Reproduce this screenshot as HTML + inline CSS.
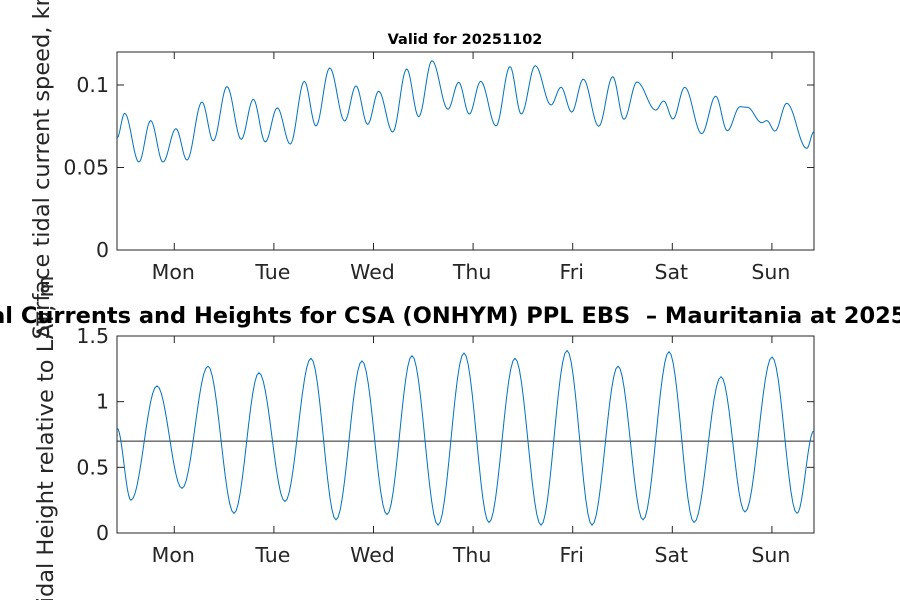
<!DOCTYPE html>
<html><head><meta charset="utf-8"><style>
body{margin:0;background:#fff;width:900px;height:600px;overflow:hidden}
svg{display:block;font-family:"DejaVu Sans","Liberation Sans",sans-serif}
</style></head><body>
<svg id="chart" width="900" height="600" viewBox="0 0 900 600"></svg>
<script>
// Current speed extrema: hours from Monday 00:00, values km/h
const curHours=[-13.8,-11.95,-8.51,-5.69,-2.72,0.41,3.06,6.67,9.40,12.70,16.14,19.04,21.93,24.82,27.95,31.33,34.14,37.45,41.06,43.78,46.60,49.25,52.63,56.00,58.89,62.10,65.95,68.53,71.08,73.83,77.52,80.89,83.61,86.99,90.77,93.18,95.76,98.55,102.27,105.64,108.36,111.49,116.00,117.93,120.17,122.99,127.08,130.46,133.25,136.31,138.07,141.54,142.75,144.75,147.57,152.38,154.14];
const curValues=[0.0679,0.0828,0.0533,0.0784,0.0533,0.0735,0.0545,0.0897,0.0662,0.0990,0.0671,0.0913,0.0655,0.0861,0.0642,0.1022,0.0752,0.1103,0.0782,0.0994,0.0762,0.0962,0.0715,0.1097,0.0808,0.1147,0.0853,0.1016,0.0824,0.1022,0.0752,0.1111,0.0824,0.1117,0.0879,0.0986,0.0836,0.1035,0.0750,0.1050,0.0792,0.1018,0.0848,0.0903,0.0794,0.0986,0.0705,0.0932,0.0723,0.0868,0.0865,0.0772,0.0784,0.0721,0.0889,0.0616,0.0717];
// Tide height extrema: hours from Monday 00:00, metres
const tideHours=[-13.8,-10.43,-4.17,1.86,8.12,14.39,20.41,26.68,32.94,38.97,45.23,51.26,57.28,63.55,69.81,75.84,82.10,88.37,94.63,100.66,106.92,112.95,119.21,125.24,131.74,137.52,144.03,150.05,154.14];
const tideValues=[0.80,0.25,1.12,0.34,1.27,0.15,1.22,0.24,1.33,0.10,1.31,0.14,1.35,0.06,1.37,0.08,1.33,0.06,1.39,0.06,1.27,0.10,1.38,0.08,1.19,0.16,1.34,0.15,0.78];
const meanLevel=[0.70];
const dayLabels=["Mon","Tue","Wed","Thu","Fri","Sat","Sun"];
const curTicks=[0,0.05,0.1];
const curTickLabels=["0","0.05","0.1"];
const tideTicks=[0,0.5,1,1.5];
const tideTickLabels=["0","0.5","1","1.5"];

const svg=document.getElementById('chart');
const NS='http://www.w3.org/2000/svg';
function mk(tag,attrs,parent){const e=document.createElementNS(NS,tag);for(const k in attrs)e.setAttribute(k,attrs[k]);(parent||svg).appendChild(e);return e;}
const X0=117,X1=814,H0=-13.8,H1=154.14;
const xs=h=>X0+(h-H0)/(H1-H0)*(X1-X0);
const axTop={y0:250,y1:52,min:0,max:0.12};
const axBot={y0:533,y1:336,min:0,max:1.5};
const ys=(ax,v)=>ax.y0-(v-ax.min)/(ax.max-ax.min)*(ax.y0-ax.y1);

function pathFrom(ax,hs,vs){
  let d='';
  for(let i=0;i<hs.length-1;i++){
    const steps=12;
    for(let s=(i?1:0);s<=steps;s++){
      const t=s/steps,h=hs[i]+(hs[i+1]-hs[i])*t;
      const v=vs[i]+(vs[i+1]-vs[i])*(1-Math.cos(Math.PI*t))/2;
      d+=(d?'L':'M')+xs(h).toFixed(2)+','+ys(ax,v).toFixed(2);
    }
  }
  return d;
}
function axes(ax,ticks,labels,name){
  const g=mk('g',{});
  
  
  mk('rect',{x:X0,y:ax.y1,width:X1-X0,height:ax.y0-ax.y1,fill:'#fff',stroke:'#262626','stroke-width':1},g);
  ticks.forEach((v,i)=>{
    const y=ys(ax,v);
    mk('line',{x1:X0,x2:X0+7,y1:y,y2:y,stroke:'#262626'},g);
    mk('line',{x1:X1,x2:X1-7,y1:y,y2:y,stroke:'#262626'},g);
    const t=mk('text',{x:X0-8,y:y+7,'text-anchor':'end','font-size':20.5,fill:'#262626'},g);
    t.textContent=labels[i];
    
    
  });
  dayLabels.forEach((d,i)=>{
    const x=xs(i*24);
    mk('line',{x1:x,x2:x,y1:ax.y0,y2:ax.y0-7,stroke:'#262626'},g);
    mk('line',{x1:x,x2:x,y1:ax.y1,y2:ax.y1+7,stroke:'#262626'},g);
    const t=mk('text',{x:x-1,y:ax.y0+29,'text-anchor':'middle','font-size':20.5,fill:'#262626'},g);
    t.textContent=d;
    
    
  });
  return g;
}
axes(axTop,curTicks,curTickLabels,'current-axes');
const p1=mk('path',{d:pathFrom(axTop,curHours,curValues),fill:'none',stroke:'#0072BD','stroke-width':1});


axes(axBot,tideTicks,tideTickLabels,'tide-axes');
const ml=mk('line',{x1:X0,x2:X1,y1:ys(axBot,meanLevel[0]),y2:ys(axBot,meanLevel[0]),stroke:'#262626','stroke-width':1});


const p2=mk('path',{d:pathFrom(axBot,tideHours,tideValues),fill:'none',stroke:'#0072BD','stroke-width':1});



let t=mk('text',{x:465,y:44,'text-anchor':'middle','font-size':14.5,'font-weight':'bold',fill:'#000'});
t.textContent='Valid for 20251102';


t=mk('text',{x:0,y:0,'text-anchor':'middle','font-size':22.5,fill:'#262626',transform:'translate(49,151) rotate(-90)'});
t.textContent='Surface tidal current speed, km/h';


t=mk('text',{x:0,y:0,'text-anchor':'middle','font-size':22.5,fill:'#262626',transform:'translate(53,446) rotate(-90)'});
t.textContent='Tidal Height relative to LAT, m';


t=mk('text',{x:460,y:323,'text-anchor':'middle','font-size':22.5,'font-weight':'bold',fill:'#000'});
t.setAttribute('style','white-space:pre');
t.textContent='Tidal Currents and Heights for CSA (ONHYM) PPL EBS  \u2013 Mauritania at 20251102';


</script>
</body></html>
